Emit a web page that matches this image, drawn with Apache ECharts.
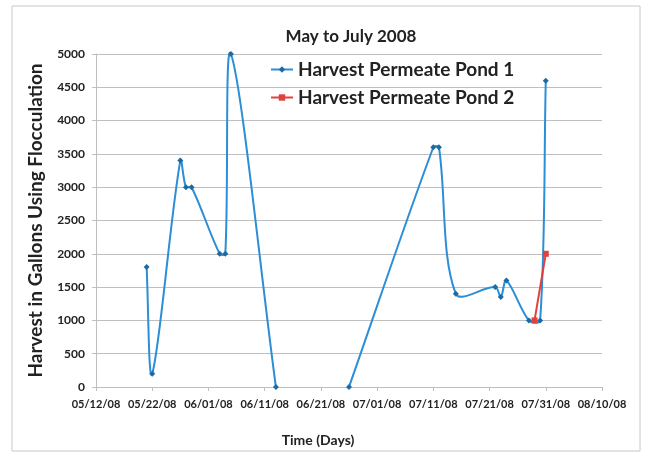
<!DOCTYPE html>
<html>
<head>
<meta charset="utf-8">
<script src="https://cdn.jsdelivr.net/npm/echarts@6/dist/echarts.min.js"></script>
<style>
  html, body { margin: 0; padding: 0; background: #ffffff; }
  #chart { width: 649px; height: 457px; }
</style>
</head>
<body>
<div id="chart"></div>
<script>
// Harvest volumes per pond (gallons), by harvest date
const pond1Dates = ['2008-05-21', '2008-05-22', '2008-05-27', '2008-05-28', '2008-05-29',
  '2008-06-03', '2008-06-04', '2008-06-05', '2008-06-13', '2008-06-20',
  '2008-06-26', '2008-07-11', '2008-07-12', '2008-07-15', '2008-07-22',
  '2008-07-23', '2008-07-24', '2008-07-28', '2008-07-30', '2008-07-31'];
const pond1Values = [1800, 200, 3400, 3000, 3000,
  2000, 2000, 5000, 0, null,
  0, 3600, 3600, 1400, 1500,
  1350, 1600, 1000, 1000, 4600];

const pond2Dates = ['2008-07-29', '2008-07-31'];
const pond2Values = [1000, 2000];

const seriesNames = ['Harvest Permeate Pond 1', 'Harvest Permeate Pond 2'];
const seriesColors = ['#2b8ed6', '#e2403c'];

// Date axis runs from 05/12/08 to 08/10/08 in 10-day steps
const axisStart = '2008-05-12';
const axisEndDays = 90;
const axisStepDays = 10;

const DAY = 86400000;
function toUTC(s) {
  const p = s.split('-').map(Number);
  return Date.UTC(p[0], p[1] - 1, p[2]);
}
const startMs = toUTC(axisStart);
function dayOffset(s) { return Math.round((toUTC(s) - startMs) / DAY); }
function pad2(n) { return (n < 10 ? '0' : '') + n; }
function fmtDay(d) {
  const dt = new Date(startMs + d * DAY);
  return pad2(dt.getUTCMonth() + 1) + '/' + pad2(dt.getUTCDate()) + '/' +
    pad2(dt.getUTCFullYear() % 100);
}
function pairs(dates, values) {
  return dates.map((d, i) => [dayOffset(d), values[i] === null ? '-' : values[i]]);
}

const pond1Data = pairs(pond1Dates, pond1Values);
const pond2Data = pairs(pond2Dates, pond2Values);

// Spreadsheet-style smoothed line: each data item draws the cubic piece
// from point i to point i+1. Tangents come from the neighbouring points and
// are scaled by segment lengths so short steps don't overshoot.
const SMOOTH = 1 / 3;
function smoothPieces(points, color) {
  const valid = p => p && p[1] !== '-';
  const dist = (a, b) => Math.hypot(b[0] - a[0], b[1] - a[1]);
  return function (params, api) {
    const i = params.dataIndex;
    const a = points[i], b = points[i + 1];
    if (!valid(a) || !valid(b)) return null;
    const p1 = api.coord(a), p2 = api.coord(b);
    const p0 = valid(points[i - 1]) ? api.coord(points[i - 1]) : p1;
    const p3 = valid(points[i + 2]) ? api.coord(points[i + 2]) : p2;
    const d01 = dist(p0, p1), d12 = dist(p1, p2), d23 = dist(p2, p3);
    const r1 = d12 / (d01 + d12 || 1) * SMOOTH;
    const r2 = d12 / (d12 + d23 || 1) * SMOOTH;
    return {
      type: 'bezierCurve',
      shape: {
        x1: p1[0], y1: p1[1], x2: p2[0], y2: p2[1],
        cpx1: p1[0] + (p2[0] - p0[0]) * r1, cpy1: p1[1] + (p2[1] - p0[1]) * r1,
        cpx2: p2[0] - (p3[0] - p1[0]) * r2, cpy2: p2[1] - (p3[1] - p1[1]) * r2
      },
      style: { stroke: color, lineWidth: 2, fill: null }
    };
  };
}
function pieceData(points) {
  return points.map((p, i) => [i, 0]);
}

const FONT = 'Lato, "Open Sans", sans-serif';
const TEXT = '#222222';

const chart = echarts.init(document.getElementById('chart'), null, { renderer: 'canvas' });
chart.setOption({
  backgroundColor: '#ffffff',
  animation: false,
  graphic: [{
    type: 'rect',
    shape: { x: 12, y: 6, width: 628, height: 445 },
    style: { fill: 'none', stroke: '#c8c8c8', lineWidth: 1 },
    silent: true,
    z: -10
  }],
  title: {
    text: 'May to July 2008',
    left: 346, top: 23, textAlign: 'center',
    textStyle: { fontFamily: FONT, fontWeight: 'bold', fontSize: 17, color: TEXT }
  },
  legend: {
    orient: 'vertical',
    left: 265, top: 55,
    itemWidth: 22, itemHeight: 8, itemGap: 9,
    textStyle: { fontFamily: FONT, fontWeight: 'bold', fontSize: 19, color: TEXT },
    data: seriesNames.map((n, i) => ({
      name: n,
      lineStyle: { color: seriesColors[i], width: 2, opacity: 1 }
    }))
  },
  grid: { left: 96, right: 47, top: 54, bottom: 70, containLabel: false },
  xAxis: {
    type: 'value',
    min: 0, max: axisEndDays, interval: axisStepDays,
    name: 'Time (Days)',
    nameLocation: 'middle', nameGap: 46,
    nameTextStyle: { fontFamily: FONT, fontWeight: 'bold', fontSize: 14, color: TEXT, padding: [0, 62, 0, 0] },
    axisLine: { show: true, lineStyle: { color: '#bfbfbf' } },
    axisTick: { show: true, length: 4, lineStyle: { color: '#bfbfbf' } },
    splitLine: { show: false },
    axisLabel: {
      formatter: v => fmtDay(v),
      fontFamily: FONT, fontWeight: 'bold', fontSize: 11, color: TEXT, margin: 12
    }
  },
  yAxis: {
    type: 'value',
    min: 0, max: 5000, interval: 500,
    name: 'Harvest in Gallons Using Flocculation',
    nameLocation: 'middle', nameGap: 51, nameRotate: 90,
    nameTextStyle: { fontFamily: FONT, fontWeight: 'bold', fontSize: 19, color: TEXT },
    axisLine: { show: true, lineStyle: { color: '#bfbfbf' } },
    axisTick: { show: true, length: 4, lineStyle: { color: '#bfbfbf' } },
    splitLine: { show: true, lineStyle: { color: '#bfbfbf', width: 1 } },
    axisLabel: {
      formatter: v => String(v),
      fontFamily: FONT, fontWeight: 'bold', fontSize: 12, color: TEXT, margin: 11
    }
  },
  series: [{
    name: seriesNames[0],
    type: 'line',
    data: pond1Data,
    connectNulls: false,
    symbol: 'diamond', symbolSize: 6,
    lineStyle: { color: seriesColors[0], width: 2, opacity: 0 },
    itemStyle: { color: '#1f6aa0' },
    z: 5
  }, {
    name: seriesNames[1],
    type: 'line',
    data: pond2Data,
    symbol: 'rect', symbolSize: 6,
    lineStyle: { color: seriesColors[1], width: 2, opacity: 0 },
    itemStyle: { color: '#e2403c' },
    z: 6
  }, {
    id: 'pond1-curve',
    type: 'custom',
    renderItem: smoothPieces(pond1Data, seriesColors[0]),
    data: pieceData(pond1Data),
    encode: { x: -1, y: -1 },
    clip: false,
    silent: true,
    z: 2
  }, {
    id: 'pond2-curve',
    type: 'custom',
    renderItem: smoothPieces(pond2Data, seriesColors[1]),
    data: pieceData(pond2Data),
    encode: { x: -1, y: -1 },
    clip: false,
    silent: true,
    z: 3
  }]
});
</script>
</body>
</html>
